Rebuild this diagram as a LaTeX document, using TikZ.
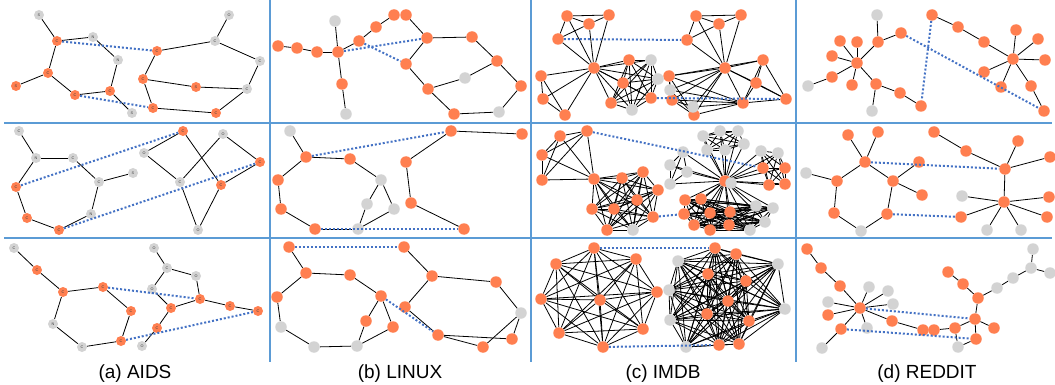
\documentclass[tikz,border=0pt]{standalone}
\usepackage{fontspec}
\setmainfont{Liberation Sans}
\definecolor{nodeor}{HTML}{FF7F50}
\definecolor{nodegr}{HTML}{D3D3D3}
\definecolor{gridblue}{HTML}{5B9BD5}
\definecolor{pairblue}{HTML}{4472C4}
\pgfdeclarelayer{edges}
\pgfsetlayers{edges,main}
% node lists: name/x/y (and /label for molecules)
\newcommand\mknodes[3]{\foreach \n/\x/\y in {#3} \node[#2] (#1\n) at (\x,\y) {};}
\newcommand\mkatoms[3]{\foreach \n/\x/\y/\t in {#3} \node[#2] (#1\n) at (\x,\y) {\t};}
\newcommand\mkedges[2]{\foreach \u/\v in {#2} \draw[link] (#1\u) -- (#1\v);}
\newcommand\mkpairs[2]{\foreach \u/\v in {#2} \draw[pairline] (#1\u) -- (#1\v);}
\newcommand\mkclique[2]{%
  \foreach \u [count=\i] in {#2}{%
    \foreach \v [count=\j] in {#2}{%
      \ifnum\i<\j \draw[link] (#1\u) -- (#1\v);\fi}}}
\begin{document}
\begin{tikzpicture}[x=1pt,y=-1pt,
  on/.style={circle,fill=nodeor,minimum size=11.5pt,inner sep=0pt},
  off/.style={circle,fill=nodegr,minimum size=11.5pt,inner sep=0pt},
  aon/.style={circle,fill=nodeor,minimum size=10pt,inner sep=0pt,
    font=\fontsize{3.8}{3.8}\selectfont,text=black!75},
  aoff/.style={aon,fill=nodegr},
  link/.style={black,line width=0.8pt},
  pairline/.style={pairblue,line width=2pt,dash pattern=on 2pt off 2pt},
  grid line/.style={gridblue,line width=2.2pt},
  caption/.style={anchor=base,font=\fontsize{19}{22}\selectfont}]
\useasboundingbox (0,0) rectangle (1055,385);

% panel frame
\draw[grid line] (4,123) -- (1052,123);
\draw[grid line] (4,238) -- (1052,238);
\draw[grid line] (270,0) -- (270,362);
\draw[grid line] (531,0) -- (531,362);
\draw[grid line] (796,0) -- (796,362);

% ---------- (a) AIDS ----------
\mkatoms{aa}{aon}{2/57/41/C,5/48/73/C,6/16/86/S,7/75/95/C,8/110/91/C,12/157/51/C,14/143/79/C,15/196/87/S,17/153/108/C,18/216/113/C}
\mkatoms{aa}{aoff}{1/39/15/S,3/93/37/N,4/118/60/N,9/132/113/S,10/229/15/O,11/215/41/C,13/260/61/C,16/247/89/C}
\mkatoms{ab}{aon}{6/16/187/C,8/27/218/C,9/59/230/C,10/183/131/C,13/260/162/C,15/221/185/C}
\mkatoms{ab}{aoff}{1/19/131/C,2/36/158/N,3/73/158/C,4/133/173/S,5/99/182/C,7/91/214/N,11/223/134/O,12/144/153/O,14/180/182/C,16/198/230/O}
\mkatoms{ac}{aon}{2/37/270/C,3/63/292/C,4/103/287/C,5/131/311/C,8/121/341/C,13/200/299/C,14/171/308/C,15/230/306/C,16/258/311/C,17/157/328/C}
\mkatoms{ac}{aoff}{1/14/248/C,6/53/324/N,7/82/347/C,9/154/248/O,10/167/268/C,11/196/276/O,12/152/289/O,18/142/346/O}

% ---------- (b) LINUX ----------
\mknodes{ba}{on}{1/278/46,2/297/48,3/317/52,4/338/52,6/342/84,8/359/41,9/376/27,10/394/15,11/406/15,12/427/38,13/472/37,14/497/61,15/406/64,17/521/86,18/428/89,19/454/114}
\mknodes{ba}{off}{5/335/21,7/346/114,16/465/78,20/499/112}
\mknodes{bb}{on}{2/306/157,3/350/159,5/278/180,8/281/209,9/315/229,11/451/131,12/522/134,13/406/162,14/411/203,15/464/229}
\mknodes{bb}{off}{1/290/131,4/381/180,6/367/204,7/394/209,10/358/229}
\mknodes{bc}{on}{1/289/247,2/404/247,3/306/273,4/350/275,5/277/297,6/381/296,7/366/321,8/393/327,12/432/276,13/496/282,14/405/307,16/438/335,17/512/339,18/483/347}
\mknodes{bc}{off}{9/281/327,10/314/347,11/357/346,15/521/313}

% ---------- (c) IMDB ----------
\mknodes{ca}{on}{1/567/16,2/609/15,3/589/24,4/558/39,5/594/68,6/541/76,7/543/99,8/565/115,9/629/60,12/623/83,13/611/103,14/651/98,16/696/16,17/741/15,18/719/24,19/687/40,20/725/68,21/763/60,22/669/76,23/756/83,25/672/100,27/694/115,28/743/103,29/786/99}
\mknodes{ca}{off}{10/651/60,11/658/79,15/632/110,24/670/90,26/693/107}
\mknodes{cb}{on}{1/560/136,2/587/131,3/542/155,4/542/180,5/594/179,6/622/178,7/643/172,8/658/190,9/637/200,10/592/209,11/614/209,12/653/217,13/607/230,15/725/181,29/763/168,30/785/168,31/769/185,32/785/184,33/685/200,34/701/199,35/684/214,36/710/213,37/730/212,38/694/225,39/710/230,40/729/225}
\mknodes{cb}{off}{14/633/230,16/731/183,17/703/136,18/720/131,19/738/131,20/744/144,21/725/150,22/707/150,23/683/152,24/670/165,25/687/172,26/670/184,27/761/151,28/778/153,41/756/206,42/773/208,43/765/222,44/750/230}
\mknodes{cc}{on}{1/594/248,2/556/264,3/636/259,4/541/299,5/600/300,6/657/292,7/559/333,8/643/329,9/603/347,10/715/248,11/736/254,14/708/274,15/746/281,17/728/301,19/707/314,21/749/321,23/719/345,24/739/344}
\mknodes{cc}{off}{12/678/261,13/778/264,16/669/290,18/785/309,20/670/320,22/686/347}

% ---------- (d) REDDIT ----------
\mknodes{da}{on}{2/878/42,3/901/33,4/840/41,5/857/42,6/832/56,7/857/63,8/832/77,10/852/85,11/876/84,13/900/93,14/921/106,15/932/15,16/958/27,17/984/42,18/1013/59,19/1016/30,20/1038/39,21/1045/60,22/984/72,23/1001/87,24/1031/86,25/1044/111}
\mknodes{da}{off}{1/877/15,9/808/86,12/872/111}
\mknodes{db}{on}{1/848/135,2/878/132,3/865/162,5/837/181,6/893/181,7/919/162,8/922/195,9/834/213,10/887/214,12/934/132,13/966/151,14/1018/141,15/1050/157,16/1005/169,18/1004/202,19/1049/197,20/1047/217,21/961/217}
\mknodes{db}{off}{4/806/173,11/861/231,17/962/196,22/987/230,23/1021/230}
\mknodes{dc}{on}{1/807/249,2/821/268,3/840/286,4/860/308,9/828/315,11/892/321,12/923/330,13/841/329,15/948/272,16/963/284,17/978/298,23/975/319,24/994/328,25/955/328,26/934/330,27/976/339}
\mknodes{dc}{off}{5/869/287,6/888/291,7/828/302,8/893/304,10/867/328,14/822/348,18/997/288,19/1013/278,20/1031/268,21/1033/249,22/1050/273,28/958/347}

% ---------- graph edges ----------
\begin{pgfonlayer}{edges}
\mkedges{aa}{1/2,2/3,3/4,4/8,2/5,5/6,5/7,7/8,8/9,10/11,11/12,11/13,13/16,12/14,14/15,15/16,14/17,17/18,18/16}
\mkedges{ab}{1/2,2/3,2/6,3/5,5/4,5/7,6/8,8/9,9/7,12/10,12/14,10/15,11/14,11/13,13/15,15/16,14/16}
\mkedges{ac}{1/2,2/3,3/4,4/5,5/8,8/7,7/6,6/3,9/10,10/11,10/12,11/13,12/14,14/13,13/15,15/16,14/17,17/18}

\mkedges{ba}{1/2,2/3,3/4,5/4,4/6,6/7,4/8,8/9,9/10,11/12,12/13,13/14,14/17,17/20,20/19,19/18,18/15,15/12,18/16,16/14}
\mkedges{bb}{1/2,2/3,3/4,4/6,4/7,6/10,7/10,2/5,5/8,8/9,9/10,11/12,11/13,13/14,14/15}
\mkedges{bc}{1/3,3/4,4/6,6/7,6/8,7/11,8/11,3/5,5/9,9/10,10/11,2/12,12/13,13/15,12/14,14/16,16/17,16/18,18/15,17/15}

\mkedges{ca}{1/2,1/3,2/3,1/4,4/3,1/5,3/5,2/5,4/5,5/6,5/7,5/8,6/7,6/8,7/8,5/9,5/10,5/11,5/12,5/13,5/14,5/15}
\mkclique{ca}{9,10,11,12,13,14,15}
\mkedges{ca}{16/17,16/18,17/18,16/19,19/18,16/20,18/20,17/20,19/20,20/21,20/22,20/23,20/24,20/25,20/26,20/27,20/28,20/29,21/23,21/28,21/29,23/29,23/28,28/29,22/21,22/25,22/27,22/24,24/28,25/26,26/28,27/26,24/27,25/27,22/28,25/28,27/28}
\mkclique{cb}{1,2,3,4,5}
\mkclique{cb}{5,6,7,8,9,10,11,12,13,14}
\foreach \k in {17,...,44} \draw[link] (cb15) -- (cb\k);
\mkclique{cb}{17,18,19,20,21,22}
\mkclique{cb}{23,24,25,26}
\mkclique{cb}{27,28,29,30,31,32}
\mkclique{cb}{33,34,35,36,37,38,39,40,41,42,43,44}
\mkclique{cc}{1,2,3,4,5,6,7,8,9}
\mkclique{cc}{10,11,12,13,14,15,16,17,18,19,20,21,22,23,24}

\mkedges{da}{7/4,7/5,7/6,7/8,7/10,7/2,7/11,8/9,2/1,2/3,11/12,11/13,13/14,15/16,16/17,17/18,18/19,18/20,18/21,18/22,18/23,18/24,24/25}
\mkedges{db}{1/3,2/3,3/5,3/6,4/5,5/9,9/11,11/10,10/6,6/7,6/8,12/13,13/16,14/16,15/16,16/18,18/17,18/19,18/20,18/21,18/22,18/23}
\mkedges{dc}{1/2,2/3,3/4,4/5,4/6,4/7,4/8,4/9,4/10,4/11,4/13,11/12,13/14,15/16,16/17,17/18,18/19,19/20,20/21,20/22,17/23,23/24,23/25,25/26,23/27,25/28,28/27}
\end{pgfonlayer}

% ---------- matched pairs ----------
\mkpairs{aa}{2/12,7/17}
\mkpairs{ab}{6/10,9/13}
\mkpairs{ac}{4/13,8/16}
\mkpairs{ba}{4/12,8/15}
\mkpairs{bb}{2/11,9/15}
\mkpairs{bc}{1/2,6/16}
\mkpairs{ca}{4/19,14/29}
\mkpairs{cb}{2/29,12/35}
\mkpairs{cc}{1/10,9/23}
\mkpairs{da}{3/25,15/14}
\mkpairs{db}{3/16,10/21}
\mkpairs{dc}{4/23,13/27}

% ---------- captions ----------
\node[caption] (capa) at (135,378) {(a) AIDS};
\node[caption] (capb) at (400,378) {(b) LINUX};
\node[caption] (capc) at (663,378) {(c) IMDB};
\node[caption] (capd) at (927,378) {(d) REDDIT};
\end{tikzpicture}
\end{document}
